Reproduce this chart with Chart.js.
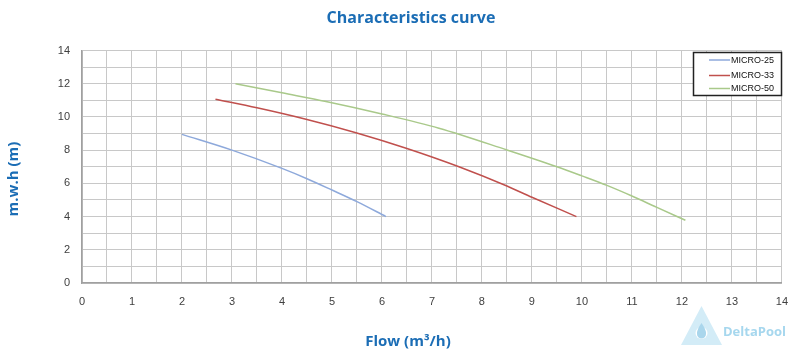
<!DOCTYPE html>
<html>
<head>
<meta charset="utf-8">
<script src="https://cdn.jsdelivr.net/npm/chart.js@4.4.0/dist/chart.umd.min.js"></script>
<style>
  html, body { margin: 0; padding: 0; background: #ffffff; }
  #wrap { width: 800px; height: 356px; position: relative; }
</style>
</head>
<body>
<div id="wrap"><canvas id="c" width="800" height="356"></canvas></div>
<script>
// ---- Data ----
const seriesNames = ['MICRO-25', 'MICRO-33', 'MICRO-50'];
const flow25 = [2.0, 3.0, 4.0, 4.5, 5.0, 5.5, 6.08];
const head25 = [8.95, 8.0, 6.9, 6.28, 5.6, 4.9, 4.0];
const flow33 = [2.67, 3.5, 4.48, 5.48, 6.5, 7.54, 8.5, 9.0, 9.89];
const head33 = [11.07, 10.55, 9.86, 9.05, 8.1, 7.0, 5.84, 5.16, 4.0];
const flow50 = [3.07, 4.0, 4.88, 6.0, 7.14, 8.5, 9.5, 10.0, 10.5, 11.0, 11.5, 12.07];
const head50 = [12.0, 11.45, 10.93, 10.18, 9.32, 8.01, 7.0, 6.45, 5.88, 5.24, 4.55, 3.78];
const xTicks = [0, 1, 2, 3, 4, 5, 6, 7, 8, 9, 10, 11, 12, 13, 14];
const yTicks = [0, 2, 4, 6, 8, 10, 12, 14];
const chartTitle = 'Characteristics curve';
const xTitle = 'Flow (m³/h)';
const yTitle = 'm.w.h (m)';
const brand = 'DeltaPool';

const colors = ['#8ea9db', '#c0504d', '#a9c98a'];
const BLUE = '#1b6db5';

function pts(xs, ys) { return xs.map((x, i) => ({ x: x, y: ys[i] })); }

const textPlugin = {
  id: 'textPlugin',
  afterDraw(chart) {
    const ctx = chart.ctx;
    ctx.save();
    // Titles
    ctx.fillStyle = BLUE;
    ctx.textAlign = 'center';
    ctx.textBaseline = 'middle';
    ctx.font = 'bold 16px "Open Sans"';
    ctx.fillText(chartTitle, 411, 18);
    ctx.font = 'bold 15px "Open Sans"';
    ctx.fillText(xTitle, 408, 342);
    ctx.save();
    ctx.translate(14, 179);
    ctx.rotate(-Math.PI / 2);
    ctx.fillText(yTitle, 0, 0);
    ctx.restore();

    // Legend box
    const bx = 693.5, by = 52.5, bw = 88, bh = 43;
    ctx.fillStyle = '#ffffff';
    ctx.fillRect(bx, by, bw, bh);
    ctx.strokeStyle = '#222222';
    ctx.lineWidth = 1.5;
    ctx.strokeRect(bx, by, bw, bh);
    const rows = [60, 75.5, 88.5];
    ctx.font = '9px "Liberation Sans"';
    ctx.textAlign = 'left';
    ctx.textBaseline = 'middle';
    chart.data.datasets.forEach((ds, i) => {
      ctx.strokeStyle = ds.borderColor;
      ctx.lineWidth = 1.5;
      ctx.beginPath();
      ctx.moveTo(709, rows[i]);
      ctx.lineTo(730, rows[i]);
      ctx.stroke();
      ctx.fillStyle = '#111111';
      ctx.fillText(ds.label, 731, rows[i] + 0.5);
    });

    // Watermark logo
    ctx.fillStyle = '#d3ecf7';
    ctx.beginPath();
    ctx.moveTo(701.5, 306);
    ctx.lineTo(722, 345);
    ctx.lineTo(681, 345);
    ctx.closePath();
    ctx.fill();
    ctx.fillStyle = '#ffffff';
    ctx.beginPath();
    ctx.arc(701.5, 333, 6, 0, Math.PI * 2);
    ctx.fill();
    ctx.fillStyle = '#a9d6ec';
    ctx.beginPath();
    ctx.moveTo(701.5, 323);
    ctx.quadraticCurveTo(706.5, 330, 706, 334);
    ctx.arc(701.5, 334, 4.5, 0, Math.PI, false);
    ctx.quadraticCurveTo(696.5, 330, 701.5, 323);
    ctx.fill();
    ctx.fillStyle = '#a6d7ee';
    ctx.font = 'bold 13px "Open Sans"';
    ctx.textAlign = 'left';
    ctx.fillText(brand, 723, 332);
    ctx.restore();
  }
};

new Chart(document.getElementById('c'), {
  type: 'line',
  data: {
    datasets: [
      { label: seriesNames[0], data: pts(flow25, head25), borderColor: colors[0] },
      { label: seriesNames[1], data: pts(flow33, head33), borderColor: colors[1] },
      { label: seriesNames[2], data: pts(flow50, head50), borderColor: colors[2] }
    ].map(d => Object.assign(d, {
      borderWidth: 1.5, pointRadius: 0, fill: false,
      cubicInterpolationMode: 'monotone'
    }))
  },
  options: {
    responsive: false,
    animation: false,
    layout: { padding: { top: 50.5, right: 16, left: 0, bottom: 0 } },
    plugins: { legend: { display: false }, title: { display: false }, tooltip: { enabled: false } },
    scales: {
      x: {
        type: 'linear', min: 0, max: 14,
        afterFit(s) { s.height = 73; },
        ticks: {
          stepSize: 0.5, padding: 12, maxRotation: 0, autoSkip: false,
          color: '#404040', font: { family: '"Liberation Sans Narrow", "Liberation Sans"', size: 11 },
          callback: v => xTicks.includes(v) ? String(v) : ''
        },
        grid: { color: '#c8c8c8', lineWidth: 1, drawTicks: false },
        border: { color: '#a0a0a0', width: 1.5 }
      },
      y: {
        type: 'linear', min: 0, max: 14,
        afterFit(s) { s.width = 82; },
        ticks: {
          stepSize: 1, padding: 12, autoSkip: false,
          color: '#404040', font: { family: '"Liberation Sans Narrow", "Liberation Sans"', size: 11 },
          callback: v => yTicks.includes(v) ? String(v) : ''
        },
        grid: { color: '#c8c8c8', lineWidth: 1, drawTicks: false },
        border: { color: '#a0a0a0', width: 1.5 }
      }
    }
  },
  plugins: [textPlugin]
});
</script>
</body>
</html>
